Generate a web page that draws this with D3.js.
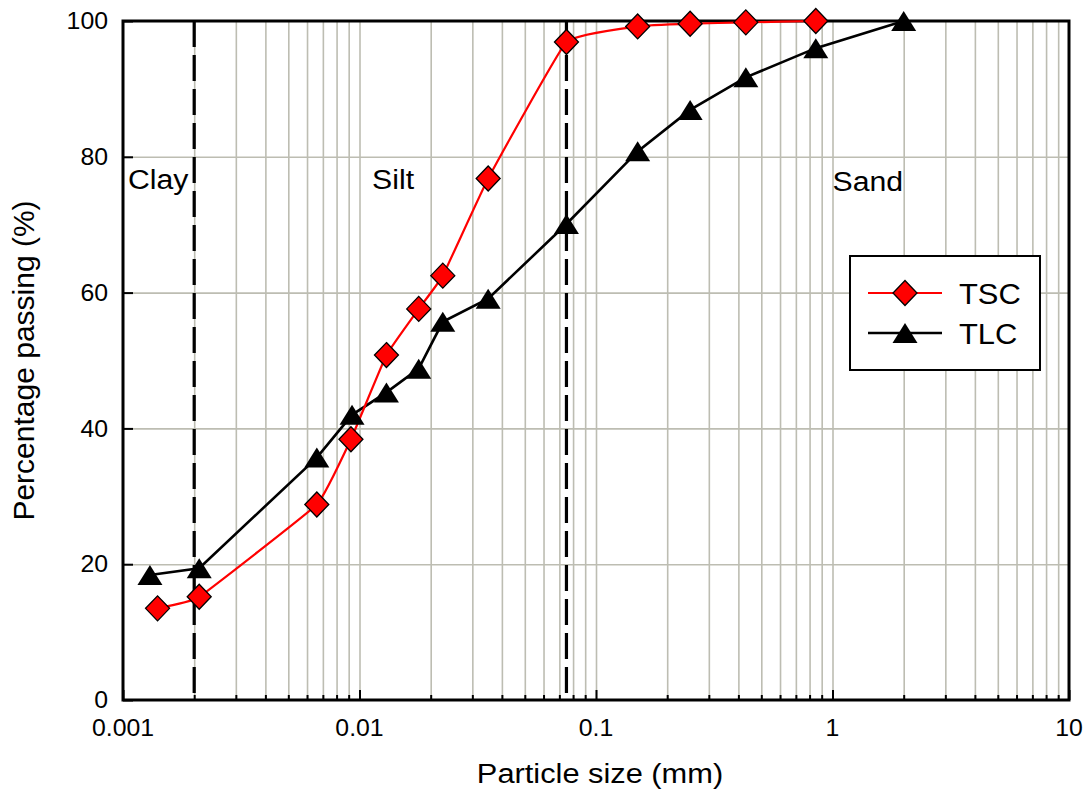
<!DOCTYPE html>
<html>
<head>
<meta charset="utf-8">
<script src="https://cdn.jsdelivr.net/npm/d3@7"></script>
<style>
  html, body { margin: 0; padding: 0; background: #ffffff; }
  svg { display: block; font-family: "Liberation Sans", Arial, sans-serif; }
</style>
</head>
<body>
<svg id="chart" width="1086" height="793"></svg>
<script>
// ---- data ----
const tscSize = [0.0014, 0.0021, 0.0066, 0.0092, 0.013, 0.0178, 0.0225, 0.035, 0.075, 0.15, 0.25, 0.43, 0.85];
const tscPass = [13.5, 15.2, 28.8, 38.4, 50.8, 57.6, 62.5, 76.8, 96.9, 99.2, 99.6, 99.8, 100];
const tlcSize = [0.0013, 0.0021, 0.0066, 0.0093, 0.013, 0.0178, 0.0225, 0.035, 0.075, 0.15, 0.25, 0.43, 0.85, 2.0];
const tlcPass = [18.4, 19.4, 35.7, 42.0, 45.3, 48.8, 55.7, 59.1, 70.1, 80.8, 86.9, 91.7, 96.0, 100];
const xTickValues = [0.001, 0.01, 0.1, 1, 10];
const xTickLabels = ["0.001", "0.01", "0.1", "1", "10"];
const yTickValues = [0, 20, 40, 60, 80, 100];
const boundaries = [0.002, 0.075];
const zoneNames = ["Clay", "Silt", "Sand"];
const zoneAt = [0.00105, 0.0113, 1.0];
const zoneY = [75.2, 75.2, 75.0];
const seriesNames = ["TSC", "TLC"];

// ---- layout ----
const L = 123, R = 1069, T = 21, B = 700;
const svg = d3.select("#chart");
const x = d3.scaleLog().domain([0.001, 10]).range([L, R]);
const y = d3.scaleLinear().domain([0, 100]).range([B, T]);
const gridColor = "#bdbdb2";

// minor + major vertical grid values
const gridX = [];
for (let e = -3; e < 1; e++) {
  for (let m = 1; m <= 9; m++) gridX.push(m * Math.pow(10, e));
}
gridX.push(10);

// vertical grid lines (via axis)
svg.append("g")
  .attr("transform", `translate(0,${B})`)
  .call(d3.axisBottom(x).tickValues(gridX.filter(v => v > 0.001 && v < 10)).tickSize(-(B - T)).tickFormat(""))
  .call(g => g.select(".domain").remove())
  .call(g => g.selectAll("line").attr("stroke", gridColor).attr("stroke-width", 1.6));

// horizontal grid lines
svg.append("g")
  .attr("transform", `translate(${L},0)`)
  .call(d3.axisLeft(y).tickValues([20, 40, 60, 80]).tickSize(-(R - L)).tickFormat(""))
  .call(g => g.select(".domain").remove())
  .call(g => g.selectAll("line").attr("stroke", gridColor).attr("stroke-width", 1.6));

// boundary dashed lines
svg.append("g").selectAll("line").data(boundaries).join("line")
  .attr("x1", d => x(d)).attr("x2", d => x(d))
  .attr("y1", T).attr("y2", B)
  .attr("stroke", "#000").attr("stroke-width", 3.2)
  .attr("stroke-dasharray", "26,8");

// frame
svg.append("rect").attr("x", L).attr("y", T).attr("width", R - L).attr("height", B - T)
  .attr("fill", "none").attr("stroke", "#000").attr("stroke-width", 3);

const sxTick = 1.08;
// x axis ticks (inward) + labels
const xAx = svg.append("g").attr("transform", `translate(0,${B})`)
  .call(d3.axisBottom(x).tickValues(gridX).tickSize(0).tickFormat(""));
xAx.select(".domain").remove();
xAx.selectAll(".tick line")
  .attr("y2", d => xTickValues.includes(d) ? -10 : -5)
  .attr("stroke", "#000").attr("stroke-width", 2);
xAx.selectAll(".tick text").remove();
svg.append("g").selectAll("text").data(xTickValues).join("text")
  .attr("transform", (d) => `translate(${x(d)},${B + 36}) scale(${sxTick},1)`)
  .attr("text-anchor", "middle")
  .attr("font-size", 23).attr("fill", "#000")
  .text((d, i) => xTickLabels[i]);

// y axis ticks + labels
const yAx = svg.append("g").attr("transform", `translate(${L},0)`)
  .call(d3.axisLeft(y).tickValues(yTickValues).tickSize(-10).tickFormat(""));
yAx.select(".domain").remove();
yAx.selectAll(".tick line").attr("stroke", "#000").attr("stroke-width", 2);
svg.append("g").selectAll("text").data(yTickValues).join("text")
  .attr("transform", d => `translate(${L - 15},${y(d)}) scale(${sxTick},1)`)
  .attr("text-anchor", "end").attr("dy", "0.36em")
  .attr("font-size", 23).attr("fill", "#000")
  .text(d => d);

// axis titles
svg.append("text")
  .attr("transform", `translate(${(L + R) / 2 + 4},783) scale(1.1,1)`)
  .attr("text-anchor", "middle").attr("font-size", 28).attr("fill", "#000")
  .text("Particle size (mm)");
svg.append("text")
  .attr("transform", `translate(34,${(T + B) / 2}) rotate(-90)`)
  .attr("text-anchor", "middle").attr("font-size", 30).attr("fill", "#000")
  .text("Percentage passing (%)");

// zone labels
svg.append("g").selectAll("text").data(zoneNames).join("text")
  .attr("transform", (d, i) => `translate(${x(zoneAt[i])},${y(zoneY[i])}) scale(1.12,1)`)
  .attr("font-size", 27).attr("fill", "#000")
  .text(d => d);

// series
const diamond = "M0,-12.5L12,0L0,12.5L-12,0Z";
const triangle = "M0,-10L12.5,10L-12.5,10Z";
const tsc = tscSize.map((s, i) => [s, tscPass[i]]);
const tlc = tlcSize.map((s, i) => [s, tlcPass[i]]);

svg.append("path").datum(tlc)
  .attr("d", d3.line().x(d => x(d[0])).y(d => y(d[1])))
  .attr("fill", "none").attr("stroke", "#000").attr("stroke-width", 2.6);
svg.append("path").datum(tsc)
  .attr("d", d3.line().curve(d3.curveCardinal.tension(0.7)).x(d => x(d[0])).y(d => y(d[1])))
  .attr("fill", "none").attr("stroke", "#ff0000").attr("stroke-width", 2.2);

svg.append("g").selectAll("path").data(tlc).join("path")
  .attr("transform", d => `translate(${x(d[0])},${y(d[1])})`)
  .attr("d", triangle).attr("fill", "#000");
svg.append("g").selectAll("path").data(tsc).join("path")
  .attr("transform", d => `translate(${x(d[0])},${y(d[1])})`)
  .attr("d", diamond).attr("fill", "#ff0000").attr("stroke", "#000").attr("stroke-width", 1.3);

// legend
const lg = svg.append("g");
lg.append("rect").attr("x", 850).attr("y", 256).attr("width", 190).attr("height", 114)
  .attr("fill", "#fff").attr("stroke", "#000").attr("stroke-width", 2);
const rows = [
  { name: seriesNames[0], color: "#ff0000", sw: 2.2, shape: diamond, fill: "#ff0000", stroke: "#000", y: 293 },
  { name: seriesNames[1], color: "#000", sw: 2.6, shape: triangle, fill: "#000", stroke: "none", y: 333 }
];
rows.forEach(r => {
  lg.append("line").attr("x1", 868).attr("x2", 942).attr("y1", r.y).attr("y2", r.y)
    .attr("stroke", r.color).attr("stroke-width", r.sw);
  lg.append("path").attr("transform", `translate(905,${r.y})`).attr("d", r.shape)
    .attr("fill", r.fill).attr("stroke", r.stroke).attr("stroke-width", 1.3);
  lg.append("text").attr("transform", `translate(959,${r.y + 11}) scale(1.03,1)`)
    .attr("font-size", 30).attr("fill", "#000").text(r.name);
});
</script>
</body>
</html>
